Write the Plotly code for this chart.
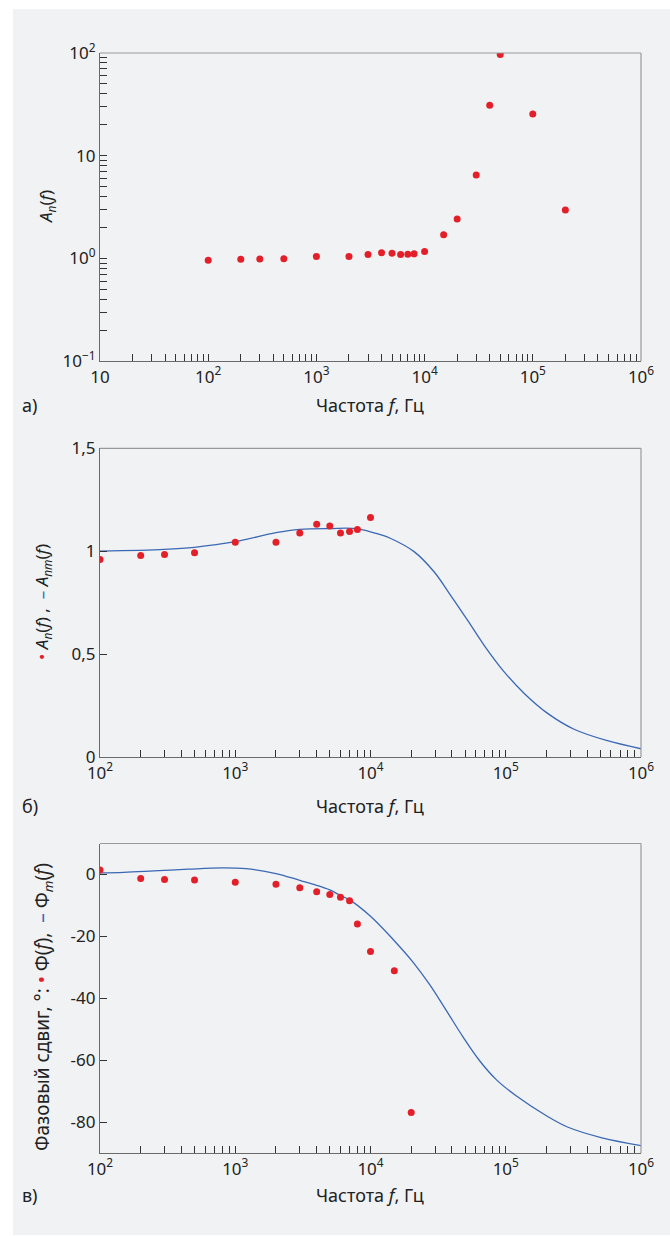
import math
import plotly.graph_objects as go

# ---------------- data ----------------
freq_pts = [100, 200, 300, 500, 1000, 2000, 3000, 4000, 5000, 6000, 7000, 8000, 10000,
            15000, 20000, 30000, 40000, 50000, 100000, 200000]
amp_pts = [0.96, 0.979, 0.984, 0.992, 1.044, 1.044, 1.088, 1.131, 1.123, 1.088, 1.096, 1.106, 1.164,
           1.70, 2.42, 6.49, 31.0, 96.8, 25.4, 2.96]

freq_b = freq_pts[:13]
amp_b = amp_pts[:13]

model_amp_f = [100, 300, 500, 1000, 2000, 3000, 5000, 8000, 12000, 14000, 21000, 29500, 39000,
               52000, 69000, 97000, 137000, 204000, 320000, 566000, 1000000]
model_amp = [1.000, 1.009, 1.019, 1.046, 1.090, 1.106, 1.110, 1.109, 1.079, 1.063, 0.998, 0.900, 0.787,
             0.666, 0.544, 0.415, 0.309, 0.212, 0.135, 0.079, 0.040]

freq_ph = [100, 200, 300, 500, 1000, 2000, 3000, 4000, 5000, 6000, 7000, 8000, 10000, 15000, 20000]
phase_pts = [1.4, -1.3, -1.6, -1.8, -2.5, -3.2, -4.3, -5.6, -6.5, -7.4, -8.5, -16.0, -24.9, -31.1, -76.9]

model_ph_f = [100, 150, 250, 450, 800, 1200, 2000, 3000, 4000, 5000, 6000, 7000, 10000, 14700,
              20600, 27400, 36400, 48300, 64100, 85100, 120000, 204000, 286000, 506000, 1000000]
model_ph = [0.5, 0.7, 1.15, 1.7, 2.1, 1.85, 0.3, -1.9, -3.5, -5.0, -6.8, -8.2, -13.5, -21.0,
            -28.3, -35.6, -44.0, -52.5, -60.2, -66.3, -71.6, -78.2, -81.6, -85.0, -87.6]

panel_letters = ["а)", "б)", "в)"]
x_title = "Частота <i>f</i>, Гц"

# ---------------- style ----------------
W, H = 670, 1236
FONT = "Noto Sans"
RED = "#e3202a"
BLUE = "#3a68b4"
TXT = "#222222"
BG = "#f1f2f4"

def py(y):  # pixel y -> paper
    return 1 - y / H

def px(x):
    return x / W

xdom = [px(100), px(641)]
ydoms = [[py(361), py(53)], [py(757), py(448.3)], [py(1153), py(843.5)]]

def sup(n):
    return "10<sup>%s</sup>" % n

def log_tick_vals(lo, hi):
    vals = [k * 10 ** n for n in range(lo, hi) for k in range(1, 10)]
    vals.append(10 ** hi)
    return vals

def decade_label(v, special=None):
    lg = math.log10(v)
    if abs(lg - round(lg)) < 1e-9:
        n = int(round(lg))
        if special and n in special:
            return special[n]
        return sup(n)
    return ""

xa_vals = log_tick_vals(1, 6)
xa_text = [decade_label(v, {1: "10"}) for v in xa_vals]
xb_vals = log_tick_vals(2, 6)
xb_text = [decade_label(v) for v in xb_vals]
ya_vals = log_tick_vals(-1, 2)
ya_text = [decade_label(v, {1: "10", -1: "10<sup>−1</sup>"}) for v in ya_vals]

fig = go.Figure()

# Panel a
fig.add_trace(go.Scatter(x=freq_pts, y=amp_pts, mode="markers",
                         marker=dict(color=RED, size=7), xaxis="x", yaxis="y", showlegend=False))
# Panel b
fig.add_trace(go.Scatter(x=model_amp_f, y=model_amp, mode="lines",
                         line=dict(color=BLUE, width=1.3, shape="spline", smoothing=1.0),
                         xaxis="x2", yaxis="y2", showlegend=False))
fig.add_trace(go.Scatter(x=freq_b, y=amp_b, mode="markers",
                         marker=dict(color=RED, size=7), xaxis="x2", yaxis="y2", showlegend=False))
# Panel c
fig.add_trace(go.Scatter(x=model_ph_f, y=model_ph, mode="lines",
                         line=dict(color=BLUE, width=1.3, shape="spline", smoothing=1.0),
                         xaxis="x3", yaxis="y3", showlegend=False))
fig.add_trace(go.Scatter(x=freq_ph, y=phase_pts, mode="markers",
                         marker=dict(color=RED, size=7), xaxis="x3", yaxis="y3", showlegend=False))

axis_common = dict(showgrid=False, zeroline=False, showline=True, linecolor="#6a6a6a", linewidth=1.2,
                   ticks="inside", ticklen=7, tickcolor="#333333", tickwidth=1, automargin=False,
                   tickfont=dict(family=FONT, size=17, color=TXT))

fig.update_layout(
    xaxis=dict(axis_common, type="log", range=[1, 6], domain=xdom, anchor="y",
               tickvals=xa_vals, ticktext=xa_text),
    yaxis=dict(axis_common, type="log", range=[-1, 2], domain=ydoms[0], anchor="x",
               tickvals=ya_vals, ticktext=ya_text),
    xaxis2=dict(axis_common, type="log", range=[2, 6], domain=xdom, anchor="y2",
                tickvals=xb_vals, ticktext=xb_text),
    yaxis2=dict(axis_common, range=[0, 1.5], domain=ydoms[1], anchor="x2",
                tickvals=[0, 0.5, 1, 1.5], ticktext=["0", "0,5", "1", "1,5"]),
    xaxis3=dict(axis_common, type="log", range=[2, 6], domain=xdom, anchor="y3",
                tickvals=xb_vals, ticktext=xb_text),
    yaxis3=dict(axis_common, range=[-90, 10], domain=ydoms[2], anchor="x3",
                tickvals=[0, -20, -40, -60, -80], ticktext=["0", "-20", "-40", "-60", "-80"]),
    width=W, height=H, autosize=False,
    margin=dict(l=0, r=0, t=0, b=0, pad=0, autoexpand=False),
    paper_bgcolor="white", plot_bgcolor="rgba(0,0,0,0)",
    font=dict(family=FONT, color=TXT),
)

shapes = [dict(type="rect", xref="paper", yref="paper", x0=px(13), x1=1, y0=py(1235), y1=py(9),
               fillcolor=BG, line=dict(width=0), layer="below")]
for xr, yr in [("x", "y"), ("x2", "y2"), ("x3", "y3")]:
    shapes.append(dict(type="line", xref=xr + " domain", yref=yr + " domain", x0=0, x1=1, y0=1, y1=1,
                       line=dict(color="#9a9a9a", width=1.2)))
    shapes.append(dict(type="line", xref=xr + " domain", yref=yr + " domain", x0=1, x1=1, y0=0, y1=1,
                       line=dict(color="#9a9a9a", width=1.2)))
fig.update_layout(shapes=shapes)

annots = []
title_y = [405, 806, 1195]
for i in range(3):
    annots.append(dict(text=x_title, x=px(370), y=py(title_y[i]), xref="paper", yref="paper",
                       showarrow=False, font=dict(family=FONT, size=18, color=TXT),
                       xanchor="center", yanchor="middle"))
    annots.append(dict(text=panel_letters[i], x=px(20), y=py(title_y[i]), xref="paper", yref="paper",
                       showarrow=False, font=dict(family=FONT, size=18, color=TXT),
                       xanchor="left", yanchor="middle"))

ytitle_common = dict(xref="paper", yref="paper", textangle=-90, showarrow=False,
                     xanchor="center", yanchor="middle", font=dict(family=FONT, size=17, color=TXT))
annots.append(dict(ytitle_common, text="<i>A</i><sub><i>n</i></sub>(<i>f</i>)", x=px(46), y=py(207)))
annots.append(dict(ytitle_common,
                   text='<span style="color:%s">•</span> <i>A</i><sub><i>n</i></sub>(<i>f</i>) ,  '
                        '<span style="color:%s">–</span> <i>A</i><sub><i>nm</i></sub>(<i>f</i>)' % (RED, BLUE),
                   x=px(43), y=py(602)))
annots.append(dict(ytitle_common,
                   text='Фазовый сдвиг, °: <span style="color:%s">•</span> Φ(<i>f</i>),  '
                        '<span style="color:%s">–</span> Φ<sub><i>m</i></sub>(<i>f</i>)' % (RED, BLUE),
                   x=px(43), y=py(1007), font=dict(family=FONT, size=19, color=TXT)))
fig.update_layout(annotations=annots)

fig.write_html("out.html",
               config={"displayModeBar": False},
               post_script="document.body.style.margin='0';document.body.style.padding='0';"
                           "document.documentElement.style.overflow='hidden';")
